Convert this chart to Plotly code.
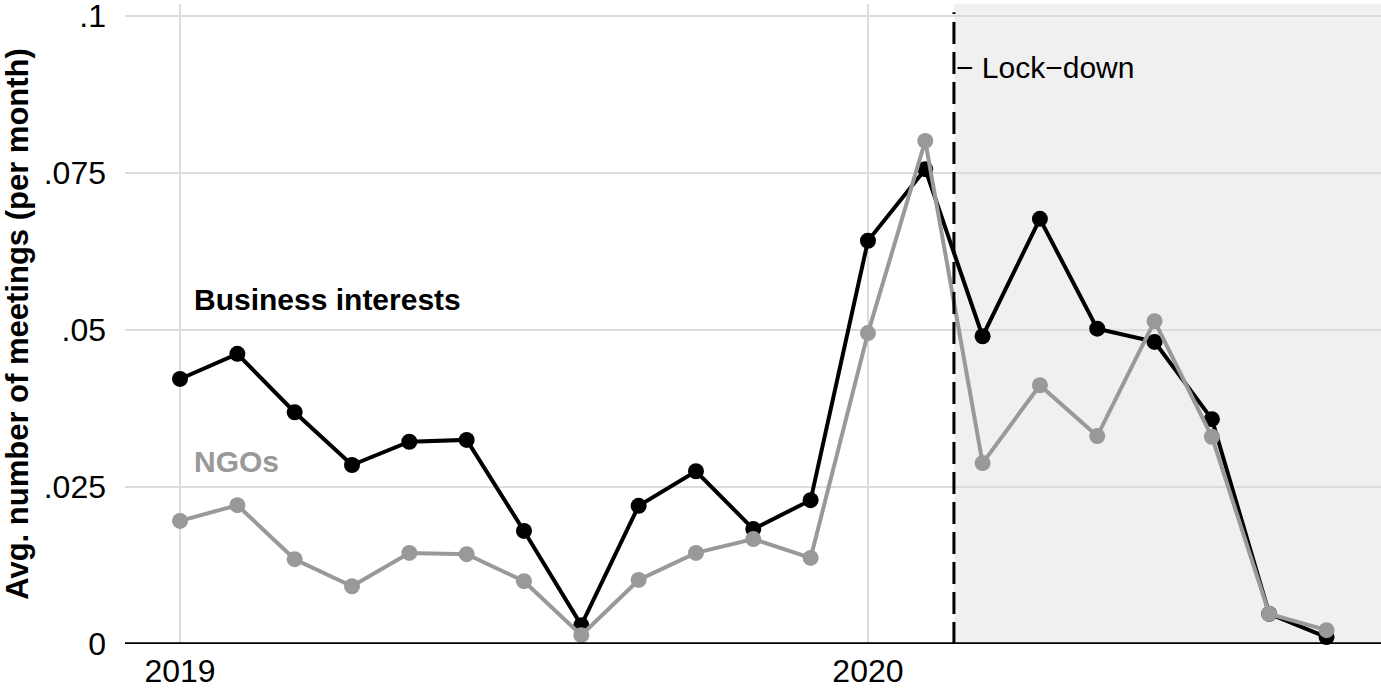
import plotly.graph_objects as go

months = list(range(21))  # 0 = Jan 2019 ... 20 = Sep 2020
tick_vals = [0, 12]
tick_text = ["2019", "2020"]
y_ticks = [0, 0.025, 0.05, 0.075, 0.1]
y_tick_text = ["0", ".025", ".05", ".075", ".1"]

business = [0.0422, 0.0462, 0.0369, 0.0285, 0.0322, 0.0325, 0.0180, 0.0030,
            0.0220, 0.0275, 0.0183, 0.0229, 0.0642, 0.0756, 0.0490, 0.0677,
            0.0502, 0.0481, 0.0358, 0.0048, 0.0011]
ngos = [0.0196, 0.0221, 0.0135, 0.0092, 0.0145, 0.0143, 0.0100, 0.0014,
        0.0102, 0.0145, 0.0167, 0.0137, 0.0495, 0.0801, 0.0288, 0.0412,
        0.0331, 0.0514, 0.0330, 0.0048, 0.0022]
lockdown = 13.5

BLACK = "#000000"
GREY = "#999999"
FONT = "Liberation Sans, Arial, sans-serif"

fig = go.Figure()
fig.add_trace(go.Scatter(x=months, y=business, mode="lines+markers",
                         line=dict(color=BLACK, width=4),
                         marker=dict(color=BLACK, size=16),
                         cliponaxis=False, showlegend=False))
fig.add_trace(go.Scatter(x=months, y=ngos, mode="lines+markers",
                         line=dict(color=GREY, width=4),
                         marker=dict(color=GREY, size=16),
                         cliponaxis=False, showlegend=False))

xmin, xmax = -0.96, 20.95
fig.add_shape(type="rect", xref="x", yref="paper", x0=lockdown, x1=xmax,
              y0=0, y1=1, fillcolor="#f0f0f0", line=dict(width=0), layer="below")
fig.add_shape(type="line", xref="x", yref="paper", x0=lockdown, x1=lockdown,
              y0=0, y1=0.987, line=dict(color=BLACK, width=3, dash="22px,8px"),
              layer="above")

fig.add_annotation(x=lockdown, y=0.0918, xref="x", yref="y", text="\u2212 Lock\u2212down",
                   showarrow=False, xanchor="left", yanchor="middle",
                   font=dict(family=FONT, size=30, color=BLACK))
fig.add_annotation(x=0.2, y=0.0548, xref="x", yref="y", text="<b>Business interests</b>",
                   showarrow=False, xanchor="left", yanchor="middle",
                   font=dict(family=FONT, size=30, color=BLACK))
fig.add_annotation(x=0.2, y=0.0290, xref="x", yref="y", text="<b>NGOs</b>",
                   showarrow=False, xanchor="left", yanchor="middle",
                   font=dict(family=FONT, size=30, color=GREY))

fig.update_layout(
    width=1381, height=699,
    margin=dict(l=125, r=0, t=4, b=55),
    plot_bgcolor="white", paper_bgcolor="white",
    font=dict(family=FONT, size=32, color=BLACK),
)
fig.update_xaxes(range=[xmin, xmax], tickvals=tick_vals, ticktext=tick_text,
                 showgrid=True, gridcolor="#dcdcdc", gridwidth=2,
                 zeroline=False, showline=False, ticks="", automargin=False,
                 ticklabelstandoff=5, ticklabeloverflow="allow",
                 tickfont=dict(size=32, family=FONT, color=BLACK))
fig.update_yaxes(range=[0, 0.1019], tickvals=y_ticks, ticktext=y_tick_text,
                 showgrid=True, gridcolor="#dcdcdc", gridwidth=2,
                 zeroline=False, showline=False, ticks="", ticklabelstandoff=18,
                 automargin=False, ticklabeloverflow="allow",
                 tickfont=dict(size=32, family=FONT, color=BLACK),
                 title=dict(text="<b>Avg. number of meetings (per month)</b>",
                            font=dict(size=31, family=FONT, color=BLACK), standoff=5))
# x-axis baseline
fig.add_shape(type="line", xref="paper", yref="y", x0=0, x1=1, y0=0, y1=0,
              line=dict(color=BLACK, width=3.5), layer="above")

fig.write_html("out.html", config={"displayModeBar": False},
               post_script="document.body.style.margin='0';document.body.style.overflow='hidden';")
